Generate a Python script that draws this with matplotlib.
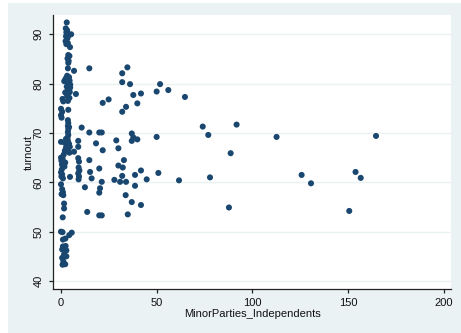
import matplotlib
matplotlib.use("Agg")
import matplotlib.pyplot as plt
from matplotlib.patches import Rectangle

plt.rcParams['font.family'] = ['Liberation Sans', 'DejaVu Sans']

# MinorParties_Independents (x) and turnout (y)
minor_parties = [
    3.0, 2.5, 3.2, 2.8, 3.5, 5.3, 2.6, 3.4, 2.4, 3.6, 2.8, 4.7,
    3.8, 4.4, 3.4, 4.0, 3.8, 3.6, 6.8, 14.8,
    3.2, 4.2, 3.0, 4.5, 1.7, 3.6, 4.8, 3.0, 4.2, 3.4, 4.6, 3.8, 7.8, 3.2, 4.4, 0.8, 1.2, 3.6,
    0.0, 0.6, 0.0, 0.3, 3.8, 3.6, 3.8, 3.6, 3.8, 3.6, 3.8, 3.4, 3.6, 0.0, 2.0, 3.0, 4.2, 2.6, 3.8, 2.0, 4.4, 3.2,
    9.0, 9.0, 6.8,
    0.0, 0.8, 0.2, 1.2, 0.5, 2.2, 1.8, 0.0, 0.6, 0.2, 1.0, 4.7, 0.0, 0.6, 1.0, 0.3, 1.2,
    9.0, 9.4, 9.2, 9.6, 9.0, 9.4, 9.2,
    1.6, 1.6, 0.9,
    0.0, 0.8, 5.6, 4.3, 1.0, 2.3, 1.0, 2.4, 0.6, 2.8, 1.6, 0.6, 2.8, 1.2, 2.2, 0.8,
    4.0, 2.4, 4.8, 2.2, 4.2, 2.6, 4.6, 1.4, 0.4, 1.8,
    10.8, 14.8, 20.0, 21.3, 18.3, 21.8, 28.9, 30.0,
    14.8, 20.0, 15.2, 16.0, 21.3, 20.4, 12.5, 20.0, 13.7, 20.0, 21.3,
    34.7, 32.0, 32.0, 36.1, 51.8, 50.0, 56.1, 64.8, 41.8, 37.8, 21.8, 24.9, 39.9, 34.0, 32.0,
    74.1, 77.0, 37.0, 37.8, 39.9, 37.0, 50.0, 32.9, 30.0, 32.3, 41.8, 50.9, 27.9, 30.9,
    34.0, 32.0, 38.7, 44.8, 61.7, 77.9, 38.7, 33.8, 37.0, 41.8, 34.9,
    91.8, 88.7, 112.7, 87.8, 125.8, 130.7, 154.0, 156.7, 150.7, 164.7,
]
turnout = [
    92.4, 91.2, 90.8, 90.4, 90.1, 90.0, 89.6, 89.2, 88.6, 88.2, 88.0, 87.4,
    85.8, 85.6, 85.1, 84.6, 84.2, 83.1, 82.6, 83.1,
    81.6, 81.3, 80.9, 80.6, 80.5, 80.2, 79.8, 79.4, 79.0, 78.6, 78.3, 78.0, 77.9, 77.5, 77.1, 76.9, 76.4, 76.5,
    74.9, 74.3, 73.6, 73.1, 74.7, 72.6, 72.0, 71.4, 70.8, 70.2, 69.6, 69.0, 68.4, 68.2, 68.0, 67.6, 67.8, 67.0, 66.8, 66.4, 66.0, 66.3,
    68.4, 67.2, 66.2,
    65.0, 64.8, 64.4, 64.2, 63.6, 64.0, 63.2, 62.0, 61.6, 61.2, 60.8, 61.1, 59.6, 58.6, 58.0, 57.6, 57.4,
    64.9, 64.2, 63.0, 62.4, 61.8, 61.2, 60.6,
    55.7, 54.7, 52.9,
    50.0, 49.9, 49.8, 49.3, 48.4, 48.6, 47.0, 47.1, 46.4, 46.2, 45.4, 44.7, 45.0, 44.0, 43.4, 43.3,
    89.8, 81.0, 79.2, 78.2, 71.2, 68.8, 67.2, 65.6, 62.6, 46.8,
    71.1, 70.1, 70.1, 70.1, 67.9, 66.5, 68.5, 66.9,
    64.5, 62.8, 62.1, 60.8, 60.1, 58.8, 59.0, 57.9, 54.0, 53.3, 53.3,
    83.3, 82.1, 80.3, 79.9, 79.9, 78.4, 78.7, 77.3, 78.0, 77.7, 76.1, 76.8, 76.0, 75.3, 74.3,
    71.3, 69.6, 69.9, 69.1, 68.7, 68.4, 69.2, 64.5, 63.4, 63.0, 62.4, 61.9, 60.5, 60.1,
    60.1, 61.3, 61.5, 60.6, 60.4, 61.0, 59.3, 57.4, 56.0, 55.4, 53.5,
    71.7, 65.9, 69.2, 54.9, 61.5, 59.8, 62.1, 60.9, 54.2, 69.4,
]
x_ticks = [0, 50, 100, 150, 200]
y_ticks = [40, 50, 60, 70, 80, 90]

W, H = 461, 333
fig = plt.figure(figsize=(W / 100, H / 100), dpi=100, facecolor='white')
fig.patches.append(Rectangle((8 / W, 0), 1 - 8 / W, 1 - 3 / H, transform=fig.transFigure,
                             facecolor='#EAF2F3', edgecolor='none', zorder=-10))

ax = fig.add_axes([53.3 / W, 1 - 289.3 / H, (451 - 53.3) / W, (289.3 - 15) / H])
ax.set_facecolor('white')
ax.scatter(minor_parties, turnout, s=19, c='#1A476F', edgecolors='none', zorder=3)

ax.set_xlim(-4.03, 203.9)
ax.set_ylim(38.32, 93.91)
ax.set_xticks(x_ticks)
ax.set_yticks(y_ticks)
ax.grid(axis='y', color='#EAF2F3', linewidth=1.0, zorder=0)
ax.set_axisbelow(True)

for s in ['top', 'right']:
    ax.spines[s].set_visible(False)
for s in ['left', 'bottom']:
    ax.spines[s].set_color('#222222')
    ax.spines[s].set_linewidth(0.9)

ax.tick_params(axis='both', direction='out', length=3, width=0.9, colors='#222222',
               labelsize=8, labelcolor='#111111')
ax.tick_params(axis='y', pad=4)
ax.tick_params(axis='x', pad=3.5)
for lab in ax.get_yticklabels():
    lab.set_rotation(90)
    lab.set_va('center')

ax.set_xlabel('MinorParties_Independents', fontsize=8, labelpad=0.5, color='#111111')
ax.set_ylabel('turnout', fontsize=8, labelpad=0, color='#111111')

fig.savefig('out.png', dpi=100, facecolor=fig.get_facecolor())
